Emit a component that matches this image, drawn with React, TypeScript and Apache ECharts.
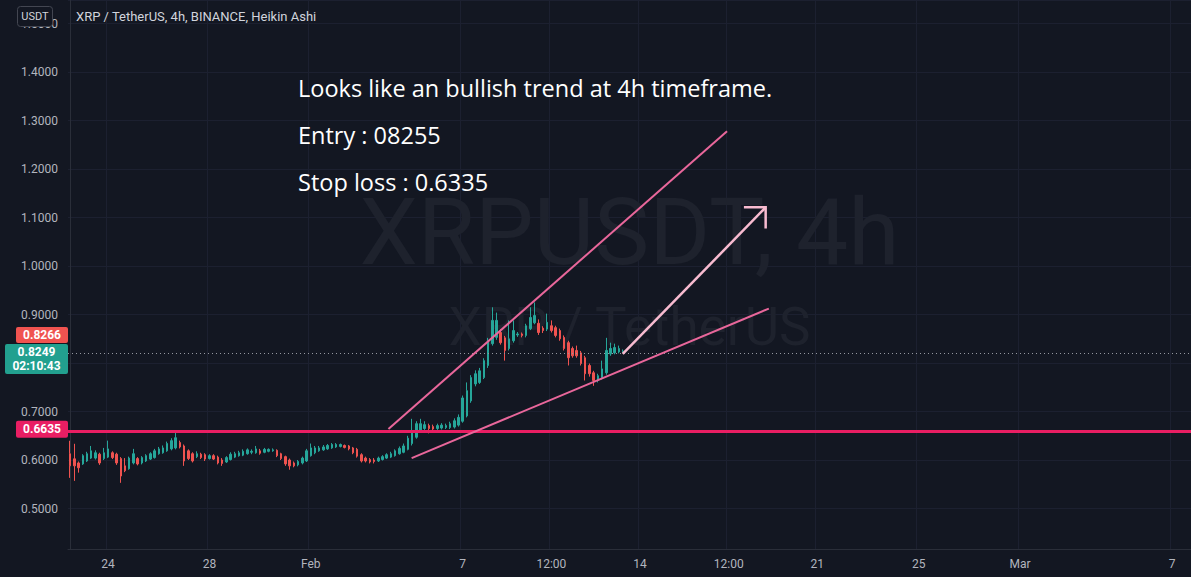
import React, { useEffect, useRef } from 'react';
import * as echarts from 'echarts';

// ---- data (Heikin Ashi 4h candles, [open, close, low, high]) ----
const CANDLES: number[][] = [
  [0.6128, 0.588, 0.5632, 0.6397], [0.6025, 0.588, 0.557, 0.6335], [0.594, 0.584, 0.574, 0.597],
  [0.592, 0.609, 0.59, 0.612], [0.598, 0.613, 0.596, 0.617], [0.604, 0.619, 0.602, 0.629],
  [0.604, 0.615, 0.601, 0.62], [0.612, 0.594, 0.59, 0.615], [0.603, 0.615, 0.6, 0.625],
  [0.606, 0.623, 0.604, 0.64], [0.615, 0.605, 0.602, 0.618], [0.612, 0.594, 0.59, 0.615],
  [0.603, 0.567, 0.553, 0.606], [0.588, 0.578, 0.575, 0.604], [0.582, 0.604, 0.58, 0.607],
  [0.594, 0.613, 0.591, 0.623], [0.603, 0.592, 0.589, 0.606], [0.594, 0.605, 0.591, 0.608],
  [0.598, 0.609, 0.596, 0.612], [0.602, 0.613, 0.6, 0.616], [0.605, 0.619, 0.603, 0.623],
  [0.613, 0.623, 0.611, 0.627], [0.615, 0.625, 0.613, 0.63], [0.619, 0.634, 0.617, 0.638],
  [0.623, 0.64, 0.62, 0.645], [0.625, 0.646, 0.622, 0.66], [0.636, 0.627, 0.624, 0.64],
  [0.629, 0.598, 0.588, 0.632], [0.619, 0.603, 0.6, 0.622], [0.613, 0.598, 0.595, 0.616],
  [0.607, 0.613, 0.604, 0.618], [0.612, 0.605, 0.602, 0.615], [0.611, 0.602, 0.598, 0.614],
  [0.603, 0.609, 0.601, 0.612], [0.609, 0.602, 0.6, 0.612], [0.606, 0.594, 0.591, 0.609],
  [0.6, 0.593, 0.588, 0.604], [0.596, 0.605, 0.594, 0.608], [0.601, 0.612, 0.599, 0.616],
  [0.606, 0.613, 0.604, 0.617], [0.609, 0.615, 0.607, 0.619], [0.61, 0.618, 0.608, 0.622],
  [0.613, 0.621, 0.611, 0.624], [0.616, 0.618, 0.612, 0.622], [0.615, 0.623, 0.613, 0.629],
  [0.619, 0.614, 0.611, 0.623], [0.616, 0.622, 0.614, 0.625], [0.618, 0.622, 0.616, 0.624],
  [0.619, 0.621, 0.617, 0.624], [0.62, 0.609, 0.606, 0.622], [0.613, 0.603, 0.6, 0.615],
  [0.607, 0.592, 0.588, 0.609], [0.6, 0.588, 0.58, 0.603], [0.594, 0.588, 0.585, 0.597],
  [0.59, 0.597, 0.587, 0.6], [0.594, 0.604, 0.591, 0.607], [0.598, 0.619, 0.596, 0.623],
  [0.609, 0.625, 0.607, 0.634], [0.615, 0.625, 0.612, 0.629], [0.619, 0.625, 0.617, 0.629],
  [0.621, 0.627, 0.619, 0.631], [0.623, 0.63, 0.621, 0.633], [0.625, 0.632, 0.623, 0.635],
  [0.627, 0.632, 0.625, 0.635], [0.628, 0.632, 0.626, 0.634], [0.63, 0.626, 0.624, 0.632],
  [0.629, 0.623, 0.62, 0.631], [0.625, 0.615, 0.612, 0.627], [0.622, 0.608, 0.605, 0.625],
  [0.611, 0.598, 0.595, 0.614], [0.604, 0.598, 0.595, 0.607], [0.601, 0.596, 0.593, 0.604],
  [0.6, 0.597, 0.593, 0.604], [0.598, 0.604, 0.596, 0.607], [0.601, 0.607, 0.599, 0.61],
  [0.604, 0.611, 0.602, 0.614], [0.606, 0.613, 0.604, 0.617], [0.609, 0.619, 0.607, 0.622],
  [0.613, 0.624, 0.611, 0.628], [0.616, 0.629, 0.614, 0.634], [0.622, 0.645, 0.62, 0.65],
  [0.634, 0.66, 0.63, 0.685], [0.647, 0.675, 0.644, 0.68], [0.662, 0.675, 0.66, 0.685],
  [0.665, 0.673, 0.662, 0.68], [0.671, 0.665, 0.655, 0.675], [0.669, 0.664, 0.66, 0.673],
  [0.665, 0.671, 0.662, 0.675], [0.666, 0.672, 0.663, 0.676], [0.667, 0.671, 0.664, 0.675],
  [0.667, 0.675, 0.664, 0.679], [0.668, 0.681, 0.665, 0.686], [0.672, 0.688, 0.669, 0.694],
  [0.68, 0.728, 0.677, 0.733], [0.691, 0.743, 0.688, 0.76], [0.722, 0.77, 0.718, 0.775],
  [0.757, 0.778, 0.752, 0.785], [0.76, 0.784, 0.757, 0.79], [0.77, 0.805, 0.767, 0.81],
  [0.795, 0.846, 0.79, 0.852], [0.84, 0.888, 0.836, 0.915], [0.853, 0.888, 0.848, 0.904],
  [0.863, 0.842, 0.838, 0.87], [0.852, 0.826, 0.805, 0.856], [0.83, 0.85, 0.826, 0.888],
  [0.846, 0.867, 0.842, 0.888], [0.858, 0.86, 0.854, 0.864], [0.86, 0.857, 0.853, 0.863],
  [0.857, 0.877, 0.853, 0.881], [0.871, 0.894, 0.868, 0.915], [0.883, 0.898, 0.88, 0.925],
  [0.882, 0.863, 0.858, 0.89], [0.872, 0.867, 0.862, 0.876], [0.87, 0.884, 0.866, 0.902],
  [0.877, 0.867, 0.863, 0.888], [0.873, 0.857, 0.853, 0.877], [0.867, 0.85, 0.846, 0.871],
  [0.853, 0.83, 0.826, 0.857], [0.842, 0.811, 0.795, 0.846], [0.83, 0.815, 0.811, 0.834],
  [0.826, 0.815, 0.811, 0.836], [0.821, 0.799, 0.795, 0.825], [0.811, 0.778, 0.764, 0.815],
  [0.795, 0.778, 0.772, 0.799], [0.78, 0.764, 0.753, 0.784], [0.764, 0.774, 0.76, 0.778],
  [0.77, 0.788, 0.766, 0.805], [0.78, 0.826, 0.776, 0.852], [0.819, 0.83, 0.815, 0.842],
  [0.821, 0.832, 0.818, 0.84], [0.823, 0.83, 0.82, 0.836], [0.824, 0.8249, 0.821, 0.828],
];

const SLOT_COUNT = 266; // 4h slots from Jan 22 12:00 to Mar 7
const TICK_INDEX = [9, 33, 57, 93, 114, 135, 156, 177, 201, 225, 261];
const TICK_TEXT = ['24', '28', 'Feb', '7', '12:00', '14', '12:00', '21', '25', 'Mar', '7'];
const Y_MIN = 0.4165;
const Y_MAX = 1.5488;

const LAST_PRICE = 0.8249;
const LAST_PRICE_TIMER = '02:10:43';
const PREV_TAG = 0.8266;
const STOP_LEVEL = 0.6635;

const UPPER_TREND = [[75.4, 0.6638], [155.6, 1.2781]];
const LOWER_TREND = [[80.9, 0.6039], [165.5, 0.9124]];
const ARROW_SHAFT = [[130.9, 0.8188], [164.75, 1.1211]];
const ARROW_HEAD = [[159.6, 1.1211], [164.75, 1.1211], [164.75, 1.0777]];

const TITLE = 'XRP / TetherUS, 4h, BINANCE, Heikin Ashi';
const WATERMARK_1 = 'XRPUSDT, 4h';
const WATERMARK_2 = 'XRP / TetherUS';
const NOTE_LINES = ['Looks like an bullish trend at 4h timeframe.', 'Entry : 08255', 'Stop loss : 0.6335'];

const BG = '#131722';
const UP = '#26a69a';
const DOWN = '#ef5350';
const FONT = "Roboto, 'Noto Sans', 'DejaVu Sans', sans-serif";
const NOTE_FONT = "'Open Sans', 'Noto Sans', sans-serif";

const categories = Array.from({ length: SLOT_COUNT }, (_, i) => String(i));
const tickMap: Record<number, string> = {};
TICK_INDEX.forEach((ix, k) => { tickMap[ix] = TICK_TEXT[k]; });

function buildOption(): any {
  const isTick = (i: number) => tickMap[i] !== undefined;
  return {
    animation: false,
    backgroundColor: BG,
    textStyle: { fontFamily: FONT },
    grid: { left: 68, right: 0, top: 0, bottom: 28, containLabel: false },
    xAxis: [
      {
        type: 'category',
        data: categories,
        boundaryGap: true,
        axisLine: { show: true, lineStyle: { color: '#2a2e39' } },
        axisTick: { show: false },
        axisLabel: {
          interval: (i: number) => isTick(i),
          formatter: (v: string) => tickMap[Number(v)] ?? '',
          color: '#b2b5be',
          fontSize: 12,
          margin: 9,
          fontFamily: FONT,
        },
        splitLine: { show: true, interval: (i: number) => isTick(i), lineStyle: { color: '#1c2030', width: 1 } },
      },
      { type: 'value', min: -0.5, max: SLOT_COUNT - 0.5, show: false },
    ],
    yAxis: {
      type: 'value',
      position: 'left',
      min: Y_MIN,
      max: Y_MAX,
      splitNumber: 10,
      axisLine: { show: true, lineStyle: { color: '#2a2e39' } },
      axisTick: { show: false },
      axisLabel: {
        color: '#b2b5be',
        fontSize: 12,
        margin: 10,
        fontFamily: FONT,
        showMinLabel: true,
        showMaxLabel: true,
        formatter: (v: number) => (Math.abs(v * 10 - Math.round(v * 10)) < 1e-6 ? v.toFixed(4) : ''),
      },
      splitLine: { show: true, lineStyle: { color: '#1c2030', width: 1 } },
    },
    series: [
      {
        type: 'candlestick',
        name: 'XRPUSDT',
        data: CANDLES,
        barWidth: 2,
        itemStyle: { color: UP, color0: DOWN, borderColor: UP, borderColor0: DOWN, borderWidth: 1 },
        markLine: {
          silent: true,
          symbol: ['none', 'none'],
          label: { show: false },
          data: [
            { yAxis: STOP_LEVEL, lineStyle: { color: '#e91e63', width: 3, type: 'solid' } },
            { yAxis: LAST_PRICE, lineStyle: { color: '#9598a1', width: 1, type: [1, 3] } },
          ],
        },
        z: 3,
      },
      {
        type: 'line', xAxisIndex: 1, yAxisIndex: 0, data: UPPER_TREND, showSymbol: false, symbol: 'none', silent: true,
        lineStyle: { color: '#e9679b', width: 2 }, z: 5,
      },
      {
        type: 'line', xAxisIndex: 1, yAxisIndex: 0, data: LOWER_TREND, showSymbol: false, symbol: 'none', silent: true,
        lineStyle: { color: '#e9679b', width: 2 }, z: 5,
      },
      {
        type: 'line', xAxisIndex: 1, yAxisIndex: 0, data: ARROW_SHAFT, showSymbol: false, symbol: 'none', silent: true,
        lineStyle: { color: '#f8bbd0', width: 2.5 }, z: 6,
      },
      {
        type: 'line', xAxisIndex: 1, yAxisIndex: 0, data: ARROW_HEAD, showSymbol: false, symbol: 'none', silent: true,
        lineStyle: { color: '#f8bbd0', width: 2.5, join: 'miter' }, z: 6,
      },
    ],
  };
}

function buildGraphics(yPx: (v: number) => number): any[] {
  const plotCenterX = 68 + (1191 - 68) / 2;
  const lastY = yPx(LAST_PRICE);
  const stopY = yPx(STOP_LEVEL);
  const tealTop = lastY - 7;
  const redBottom = tealTop - 1;
  const tagText = (text: string, x: number, y: number, size = 12) => ({
    type: 'text', z: 101, style: { text, x, y, fill: '#ffffff', fontSize: size, fontFamily: FONT, fontWeight: 'bold', textAlign: 'center', textVerticalAlign: 'middle' },
  });
  return [
    // watermark
    { type: 'text', z: 0, silent: true, style: { text: WATERMARK_1, x: plotCenterX, y: 232, fill: '#1e222d', fontSize: 93, fontFamily: FONT, textAlign: 'center', textVerticalAlign: 'middle' } },
    { type: 'text', z: 0, silent: true, style: { text: WATERMARK_2, x: plotCenterX, y: 327, fill: '#1e222d', fontSize: 53, fontFamily: FONT, textAlign: 'center', textVerticalAlign: 'middle' } },
    // header
    { type: 'text', z: 100, style: { text: TITLE, x: 76, y: 16, fill: '#d1d4dc', fontSize: 13, fontFamily: FONT, textVerticalAlign: 'middle' } },
    { type: 'rect', z: 100, shape: { x: 17.5, y: 6.5, width: 35, height: 20, r: 3 }, style: { fill: BG, stroke: '#434651', lineWidth: 1 } },
    { type: 'text', z: 101, style: { text: 'USDT', x: 35, y: 16.5, fill: '#d1d4dc', fontSize: 11, fontFamily: FONT, textAlign: 'center', textVerticalAlign: 'middle' } },
    // notes
    ...NOTE_LINES.map((t, k) => ({
      type: 'text', z: 100,
      style: { text: t, x: 298, y: 88 + k * 47, fill: '#ffffff', fontSize: 23.5, fontFamily: NOTE_FONT, textVerticalAlign: 'middle' },
    })),
    // price tags
    { type: 'rect', z: 100, shape: { x: 16, y: redBottom - 16, width: 52, height: 16, r: 2 }, style: { fill: '#f05350' } },
    tagText(PREV_TAG.toFixed(4), 42, redBottom - 8),
    { type: 'rect', z: 100, shape: { x: 5, y: tealTop, width: 63, height: 30, r: 2 }, style: { fill: '#22a08f' } },
    tagText(LAST_PRICE.toFixed(4), 36.5, tealTop + 8),
    tagText(LAST_PRICE_TIMER, 36.5, tealTop + 22.5),
    { type: 'rect', z: 100, shape: { x: 16, y: stopY - 8.5, width: 52, height: 17, r: 2 }, style: { fill: '#e91e63' } },
    tagText(STOP_LEVEL.toFixed(4), 42, stopY),
  ];
}

export default function App() {
  const ref = useRef<HTMLDivElement>(null);
  useEffect(() => {
    const el = ref.current;
    if (!el) return;
    const chart = echarts.init(el, undefined, { renderer: 'svg' });
    chart.setOption(buildOption());
    const yPx = (v: number) => chart.convertToPixel({ yAxisIndex: 0 } as any, v) as unknown as number;
    chart.setOption({ graphic: buildGraphics(yPx) });
    return () => chart.dispose();
  }, []);
  return <div ref={ref} style={{ position: 'fixed', left: 0, top: 0, width: 1191, height: 577 }} />;
}
